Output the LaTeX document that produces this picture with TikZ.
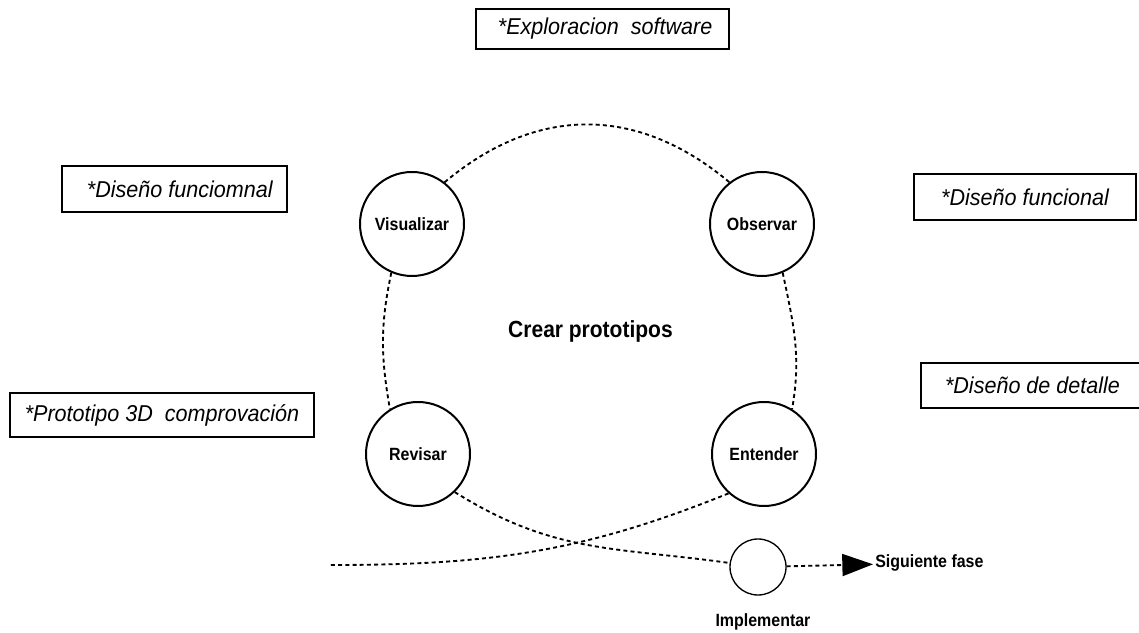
\documentclass[tikz,border=0pt]{standalone}
\usepackage{fontspec}
\usetikzlibrary{arrows.meta}
\newfontfamily\boxfont[FakeStretch=0.94]{Liberation Sans}
\newfontfamily\labelfont[FakeStretch=0.9]{Liberation Sans}

\tikzset{
  notebox/.style={draw, line width=1.6pt, rectangle, inner sep=0pt,
    font=\boxfont\itshape\fontsize{17.2}{19}\selectfont},
  stage/.style={draw, circle, line width=1.5pt, minimum size=78pt, inner sep=0pt,
    fill=white, font=\labelfont\bfseries\fontsize{13.3}{15}\selectfont},
  gate/.style={draw, circle, line width=1pt, minimum size=42pt, inner sep=0pt, fill=white},
  tag/.style={inner sep=1.5pt, font=\labelfont\bfseries\fontsize{13.3}{15}\selectfont},
  flow/.style={line width=1.4pt, dash pattern=on 3pt off 2.4pt},
}

\begin{document}
\begin{tikzpicture}[x=0.75pt, y=0.75pt]
\useasboundingbox (0,0) rectangle (1139,632);

% the four stages of the cycle
\node[stage] (vis) at (412,408) {Visualizar};
\node[stage] (obs) at (762,408) {Observar};
\node[stage] (rev) at (418,178) {Revisar};
\node[stage] (ent) at (764,178) {Entender};

\node[font=\labelfont\bfseries\fontsize{17.5}{20}\selectfont, anchor=base]
  (title) at (590.5,294) {Crear prototipos};

% exit towards the next phase
\node[gate] (imp) at (758,65) {};
\node[tag] (implbl) at (763,10) {Implementar};
\node[tag, anchor=west] (next) at (873,69) {Siguiente fase};
\coordinate (start) at (330,67);

% annotation boxes
\node[notebox, minimum width=189.75pt, minimum height=30pt] (b1) at (602.5,603) {\hspace{4pt}*Exploracion~ software};
\node[notebox, minimum width=168.75pt, minimum height=34.5pt] (b2) at (174.5,443) {\hspace{8pt}*Diseño funciomnal};
\node[notebox, minimum width=166.5pt, minimum height=34.5pt] (b3) at (1025,435) {*Diseño funcional};
\node[notebox, minimum width=167.25pt, minimum height=33.75pt] (b4) at (1032.5,246.5) {*Diseño de detalle};
\node[notebox, minimum width=228pt, minimum height=33pt] (b5) at (162,217) {*Prototipo 3D~ comprovación};

% dashed cycle
\draw[flow] (vis.52) to[out=40, in=140, looseness=1.08] (obs.128);
\draw[flow] (vis.247) to[out=258, in=100] (rev.122);
\draw[flow] (obs.-67) to[out=-78, in=80] (ent.58);
\draw[flow] (rev.-46) to[out=-32, in=172, looseness=1.05] (imp);
\draw[flow] (ent.228) to[out=202, in=0] (start);
\draw[flow, -{Triangle[length=23pt, width=16.5pt]}] (imp) -- (next);
\end{tikzpicture}
\end{document}
